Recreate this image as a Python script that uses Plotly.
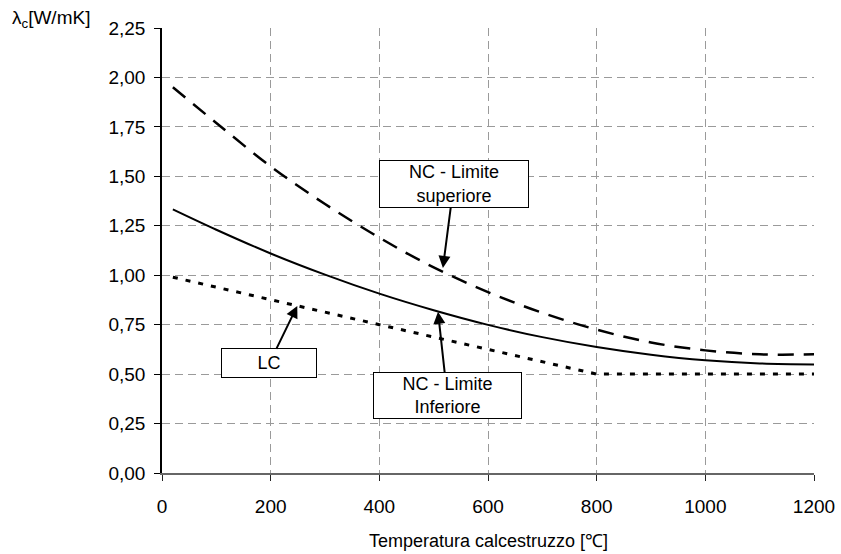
import plotly.graph_objects as go

# Data
temp_nc = [20, 100, 200, 300, 400, 500, 600, 700, 800, 900, 1000, 1100, 1200]
nc_upper = [1.95, 1.77, 1.55, 1.36, 1.19, 1.04, 0.915, 0.81, 0.725, 0.66, 0.62, 0.60, 0.60]
nc_lower = [1.333, 1.23, 1.11, 1.003, 0.907, 0.823, 0.749, 0.687, 0.637, 0.598, 0.57, 0.554, 0.549]
temp_lc = [20, 200, 400, 600, 800, 1000, 1200]
lc = [0.99, 0.875, 0.75, 0.625, 0.50, 0.50, 0.50]

y_ticks = [0, 0.25, 0.5, 0.75, 1.0, 1.25, 1.5, 1.75, 2.0, 2.25]
y_tick_text = ["0,00", "0,25", "0,50", "0,75", "1,00", "1,25", "1,50", "1,75", "2,00", "2,25"]
x_ticks = [0, 200, 400, 600, 800, 1000, 1200]
x_tick_text = ["0", "200", "400", "600", "800", "1000", "1200"]

FONT = "Liberation Sans, Arial, sans-serif"

fig = go.Figure()
fig.add_trace(go.Scatter(x=temp_nc, y=nc_upper, mode="lines", line_shape="spline",
                         line=dict(color="black", width=2.5, dash="16px,10px"),
                         name="NC - Limite superiore", showlegend=False))
fig.add_trace(go.Scatter(x=temp_nc, y=nc_lower, mode="lines", line_shape="spline",
                         line=dict(color="black", width=2),
                         name="NC - Limite inferiore", showlegend=False))
fig.add_trace(go.Scatter(x=temp_lc, y=lc, mode="lines",
                         line=dict(color="black", width=3, dash="5px,8px"),
                         name="LC", showlegend=False))

ann_common = dict(xref="x", yref="y", axref="x", ayref="y", showarrow=True,
                  arrowhead=2, arrowsize=1.2, arrowwidth=2, arrowcolor="black",
                  bgcolor="white", bordercolor="black", borderwidth=1,
                  font=dict(family=FONT, size=18, color="black"))

fig.add_annotation(text="NC - Limite<br>superiore", x=517, y=1.037, ax=537, ay=1.46,
                   width=146, height=44, **ann_common)
fig.add_annotation(text="LC", x=249, y=0.845, ax=197.5, ay=0.554,
                   width=92, height=26, **ann_common)
fig.add_annotation(text="NC - Limite<br>Inferiore", x=508, y=0.815, ax=525, ay=0.39,
                   width=145, height=43, **ann_common)

# axis titles as free text
fig.add_annotation(text="λ<sub>c</sub>[W/mK]", xref="paper", yref="paper",
                   x=-0.233, y=1.02, xanchor="left", yanchor="middle", showarrow=False,
                   font=dict(family=FONT, size=19, color="black"))
fig.add_annotation(text="Temperatura calcestruzzo [℃]", xref="paper", yref="paper",
                   x=0.5, y=-0.153, xanchor="center", yanchor="middle", showarrow=False,
                   font=dict(family=FONT, size=18, color="black"))

fig.update_layout(
    width=841, height=554,
    margin=dict(l=162, r=27, t=28, b=81),
    plot_bgcolor="white", paper_bgcolor="white",
    font=dict(family=FONT, size=18, color="black"),
    xaxis=dict(range=[0, 1200], tickvals=x_ticks, ticktext=x_tick_text,
               automargin=False, tickfont=dict(size=19),
               showgrid=True, gridcolor="#9a9a9a", griddash="8px,5px", gridwidth=1,
               showline=True, linecolor="#666666", linewidth=2,
               ticks="outside", ticklen=6, tickcolor="#222222",
               ticklabelstandoff=9, zeroline=False),
    yaxis=dict(range=[0, 2.25], tickvals=y_ticks, ticktext=y_tick_text,
               automargin=False, tickfont=dict(size=19),
               showgrid=True, gridcolor="#9a9a9a", griddash="8px,5px", gridwidth=1,
               showline=True, linecolor="black", linewidth=1.5,
               ticks="outside", ticklen=6, tickcolor="black",
               ticklabelstandoff=5, zeroline=False),
)

fig.write_html(
    "out.html",
    config={"displayModeBar": False},
    post_script="document.body.style.margin='0';"
                "document.body.style.overflow='hidden';"
                "document.documentElement.style.overflow='hidden';",
)
